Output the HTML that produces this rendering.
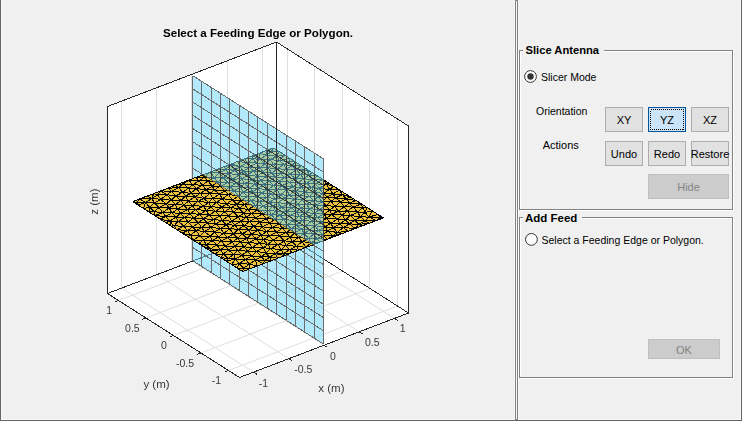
<!DOCTYPE html>
<html><head><meta charset="utf-8"><style>
html,body{margin:0;padding:0;background:#f0f0f0;width:742px;height:421px;overflow:hidden}
svg{position:absolute;left:0;top:0;font-family:"Liberation Sans",sans-serif}
svg.plot{will-change:transform}
</style></head><body>
<svg width="742" height="421" viewBox="0 0 742 421">
<rect x="520.5" y="51.5" width="213" height="159" fill="none" stroke="#fff"/><rect x="519.5" y="50.5" width="213" height="159" fill="none" stroke="#828282"/>
<rect x="523" y="46" width="81" height="8" fill="#f0f0f0"/>
<rect x="520.5" y="218.5" width="213" height="160" fill="none" stroke="#fff"/><rect x="519.5" y="217.5" width="213" height="160" fill="none" stroke="#828282"/>
<rect x="523" y="213" width="59" height="8" fill="#f0f0f0"/>
<text x="525.5" y="54.1" font-size="11.2" text-anchor="start" font-weight="bold" fill="#000" >Slice Antenna</text>
<text x="525" y="221.7" font-size="11.5" text-anchor="start" font-weight="bold" fill="#000" >Add Feed</text>
<circle cx="530.5" cy="76.5" r="5.9" fill="#fff" stroke="#333" stroke-width="1"/>
<circle cx="530.5" cy="76.5" r="3.2" fill="#333"/>
<circle cx="531.4" cy="239.4" r="5.9" fill="#fff" stroke="#333" stroke-width="1"/>
<text x="541" y="81.1" font-size="10.5" text-anchor="start" font-weight="normal" fill="#000" >Slicer Mode</text>
<text x="541.5" y="243.9" font-size="10.5" text-anchor="start" font-weight="normal" fill="#000" >Select a Feeding Edge or Polygon.</text>
<text x="536" y="114.9" font-size="10.5" text-anchor="start" font-weight="normal" fill="#000" >Orientation</text>
<text x="542.7" y="148.8" font-size="11" text-anchor="start" font-weight="normal" fill="#000" >Actions</text>
<rect x="605.5" y="107.5" width="37" height="24" fill="#e1e1e1" stroke="#adadad"/><text x="624.0" y="124" font-size="11" text-anchor="middle" font-weight="normal" fill="#000" >XY</text>
<rect x="648.5" y="107.5" width="37" height="24" fill="#cce4f7" stroke="#005499"/><rect x="650.5" y="109.5" width="33" height="20" fill="none" stroke="#000" stroke-dasharray="1,1" shape-rendering="crispEdges"/><text x="667.0" y="124" font-size="11" text-anchor="middle" font-weight="normal" fill="#000" >YZ</text>
<rect x="691.5" y="107.5" width="37" height="24" fill="#e1e1e1" stroke="#adadad"/><text x="710.0" y="124" font-size="11" text-anchor="middle" font-weight="normal" fill="#000" >XZ</text>
<rect x="605.5" y="141.5" width="37" height="24" fill="#e1e1e1" stroke="#adadad"/><text x="624.0" y="158" font-size="11" text-anchor="middle" font-weight="normal" fill="#000" >Undo</text>
<rect x="648.5" y="141.5" width="37" height="24" fill="#e1e1e1" stroke="#adadad"/><text x="667.0" y="158" font-size="11" text-anchor="middle" font-weight="normal" fill="#000" >Redo</text>
<rect x="691.5" y="141.5" width="37" height="24" fill="#e1e1e1" stroke="#adadad"/><text x="710.0" y="158" font-size="11" text-anchor="middle" font-weight="normal" fill="#000" >Restore</text>
<rect x="648.5" y="174.5" width="80" height="24" fill="#cccccc" stroke="#bfbfbf"/><text x="688.5" y="191" font-size="11" text-anchor="middle" font-weight="normal" fill="#838383" >Hide</text>
<rect x="648.5" y="339.5" width="71" height="19" fill="#cccccc" stroke="#bfbfbf"/><text x="684.0" y="354.1" font-size="11" text-anchor="middle" font-weight="normal" fill="#838383" >OK</text>
<rect x="0" y="0" width="1" height="421" fill="#646464"/>
<rect x="1" y="0" width="1" height="420" fill="#f8f8f8"/>
<rect x="0" y="420" width="742" height="1" fill="#646464"/>
<rect x="1" y="419" width="740" height="1" fill="#f8f8f8"/>
<rect x="741" y="0" width="1" height="421" fill="#646464"/>
<rect x="740" y="0" width="1" height="420" fill="#f8f8f8"/>
<rect x="514" y="0" width="1" height="420" fill="#f8f8f8"/>
<rect x="515" y="0" width="1" height="420" fill="#828282"/>
<rect x="516" y="0" width="1" height="420" fill="#828282"/>
<rect x="516" y="1" width="1" height="418" fill="#f8f8f8"/>
<rect x="517" y="0" width="1" height="420" fill="#828282"/>
<rect x="518" y="0" width="1" height="420" fill="#f8f8f8"/>
</svg>
<svg class="plot" width="742" height="421" viewBox="0 0 742 421">
<polygon points="107.50,293.50 276.50,229.00 276.50,42.00 107.50,106.50" fill="#fff"/>
<polygon points="276.50,229.00 408.50,313.00 408.50,126.00 276.50,42.00" fill="#fff"/>
<polygon points="107.50,293.50 239.50,377.50 408.50,313.00 276.50,229.00" fill="#fff"/>
<g stroke="#dfdfdf" stroke-width="1"><line x1="121.50" y1="288.12" x2="121.50" y2="101.12" /><line x1="397.50" y1="306.00" x2="397.50" y2="119.00" /><line x1="253.58" y1="372.12" x2="121.58" y2="288.12" /><line x1="228.50" y1="370.50" x2="397.50" y2="306.00" /><line x1="156.50" y1="274.69" x2="156.50" y2="87.69" /><line x1="369.50" y1="288.50" x2="369.50" y2="101.50" /><line x1="288.79" y1="358.69" x2="156.79" y2="274.69" /><line x1="201.00" y1="353.00" x2="370.00" y2="288.50" /><line x1="191.50" y1="261.25" x2="191.50" y2="74.25" /><line x1="342.50" y1="271.00" x2="342.50" y2="84.00" /><line x1="324.00" y1="345.25" x2="192.00" y2="261.25" /><line x1="173.50" y1="335.50" x2="342.50" y2="271.00" /><line x1="227.50" y1="247.81" x2="227.50" y2="60.81" /><line x1="314.50" y1="253.50" x2="314.50" y2="66.50" /><line x1="359.21" y1="331.81" x2="227.21" y2="247.81" /><line x1="146.00" y1="318.00" x2="315.00" y2="253.50" /><line x1="262.50" y1="234.38" x2="262.50" y2="47.38" /><line x1="287.50" y1="236.00" x2="287.50" y2="49.00" /><line x1="394.42" y1="318.38" x2="262.42" y2="234.38" /><line x1="118.50" y1="300.50" x2="287.50" y2="236.00" /></g>
<g stroke="#262626" stroke-width="1" shape-rendering="crispEdges"><line x1="107.50" y1="293.50" x2="276.50" y2="229.00" /><line x1="276.50" y1="229.00" x2="408.50" y2="313.00" /><line x1="276.50" y1="229.00" x2="276.50" y2="42.00" /></g>
<defs><g id="plate"><polygon points="242.58,271.62 383.42,217.88 273.42,147.88 132.58,201.62" fill="#eec13f"/><path d="M238.9 208.4L248.1 209.3M345.2 219.9L350.3 215.5M296.2 224.9L293.3 220.6M243.7 268.0L239.3 263.7M198.6 243.6L193.1 240.1M249.4 221.6L255.9 217.9M270.3 159.6L276.8 156.4M287.2 225.0L284.0 219.2M224.6 211.8L233.3 211.9M264.1 184.2L261.2 180.4M169.1 207.8L165.9 203.9M304.4 233.5L309.3 230.2M143.6 208.6L149.6 207.2M180.7 213.4L177.8 209.1M284.0 219.2L290.3 215.8M372.4 210.9L366.9 207.4M174.0 225.8L183.9 226.3M248.6 242.8L247.1 238.3M171.3 200.2L167.1 194.7M301.7 187.5L298.2 183.1M366.9 207.4L361.4 203.9M243.9 225.9L240.6 221.2M347.6 210.9L357.8 212.2M256.6 251.4L265.9 253.2M203.7 240.0L210.2 236.1M298.9 250.1L296.5 246.3M198.4 223.0L203.2 218.8M187.8 209.7L195.8 209.7M276.6 232.1L272.3 227.4M358.8 224.3L365.2 220.8M246.9 162.9L253.1 158.8M252.1 256.1L256.6 251.4M185.6 196.1L195.3 196.7M301.7 187.5L306.2 183.3M294.5 232.9L291.6 228.7M265.1 163.6L270.3 159.6M231.6 264.6L235.2 259.1M243.9 225.9L253.9 226.3M323.4 193.5L329.6 189.5M149.1 212.1L154.1 211.6M269.9 202.1L266.8 197.5M169.7 221.3L165.8 216.4M222.3 198.6L232.2 200.1M317.1 238.7L327.1 239.4M196.0 177.4L203.0 174.8M236.8 183.3L244.3 183.6M188.2 221.8L184.5 217.5M203.7 198.3L210.1 193.4M244.3 183.6L242.2 178.8M204.6 231.7L201.6 227.5M279.2 215.2L290.3 215.8M242.1 233.9L238.5 229.4M224.1 166.7L230.9 165.2M338.1 211.4L335.1 206.3M380.2 217.6L383.4 217.9M252.4 179.8L257.3 176.4M277.6 202.8L288.7 203.5M250.0 187.9L255.2 184.1M352.9 207.1L349.6 203.2M344.0 206.7L352.9 207.1M269.8 257.1L277.8 258.2M188.3 201.1L198.1 201.4M183.9 205.2L192.2 205.7M296.5 246.3L292.3 241.6M247.1 238.3L251.4 234.3M213.6 219.4L220.0 215.8M283.9 164.5L289.0 161.6M342.3 215.0L347.6 210.9M250.0 187.9L244.3 183.6M329.6 189.5L333.9 186.4M279.2 223.9L275.0 219.2M255.9 217.9L266.3 218.7M271.8 214.8L279.2 215.2M203.7 198.3L212.8 198.5M240.5 241.9L247.1 238.3M289.6 249.7L296.5 246.3M187.6 236.6L182.1 233.1M226.5 203.9L237.0 204.2M275.0 219.2L284.0 219.2M214.3 190.0L225.0 190.7M295.6 190.6L293.1 186.8M212.3 240.7L210.2 236.1M193.1 240.1L190.5 235.4M212.3 186.1L208.0 180.9M306.0 247.4L311.2 242.7M281.4 186.0L279.4 181.1M277.2 190.0L273.7 185.4M149.6 207.2L159.1 207.5M279.4 160.5L289.9 158.4M267.9 189.6L264.1 184.2M203.3 206.2L198.1 201.4M223.3 254.0L233.7 254.4M244.1 246.9L240.5 241.9M265.9 253.2L263.4 247.7M321.9 222.0L326.4 218.3M232.7 179.2L239.3 174.9M355.9 200.4L350.4 196.9M241.9 255.2L252.1 256.1M139.6 198.9L152.0 198.3M302.2 199.8L313.5 200.7M256.2 163.0L265.1 163.6M210.9 227.6L220.7 228.4M256.4 239.0L263.6 239.7M227.6 237.5L233.2 234.0M208.9 215.1L220.0 215.8M244.3 204.3L241.1 200.8M264.5 260.5L269.8 257.1M326.0 205.7L331.1 201.3M362.3 225.9L369.3 223.2M335.6 197.8L342.4 194.6M190.8 193.3L200.3 193.3M195.8 209.7L203.3 206.2M174.8 185.5L181.9 182.8M319.0 188.3L329.6 189.5M154.6 215.6L149.1 212.1M281.0 173.6L286.0 169.4M262.3 213.8L271.8 214.8M267.7 244.5L273.1 240.4M327.5 231.0L325.2 226.9M228.0 258.5L223.3 254.0M165.9 203.9L160.7 199.4M305.5 225.9L302.6 220.5M292.0 165.8L295.4 161.9M220.7 228.4L215.6 224.0M240.5 187.1L244.3 183.6M311.2 242.7L317.1 238.7M269.6 223.1L275.0 219.2M251.3 200.5L257.0 197.0M160.1 219.1L165.8 216.4M256.2 163.0L253.1 158.8M210.9 227.6L207.4 222.8M263.7 263.6L264.5 260.5M256.4 239.0L251.4 234.3M292.0 165.8L289.0 161.6M181.1 200.5L188.3 201.1M165.9 203.9L175.2 204.5M152.0 198.3L157.8 194.8M257.3 176.4L266.0 176.5M349.3 223.9L358.8 224.3M247.6 251.2L252.1 247.4M220.1 186.1L217.5 182.0M298.2 183.1L303.3 178.6M229.8 228.7L234.7 225.1M290.3 237.2L298.5 237.6M326.6 184.3L328.4 182.9M279.4 236.0L290.3 237.2M246.4 217.3L251.5 213.7M298.5 237.6L294.5 232.9M204.4 177.3L214.3 177.6M261.2 180.4L257.3 176.4M309.6 196.4L305.0 192.0M239.3 174.9L247.9 174.9M183.9 226.3L192.6 227.1M154.2 203.0L152.0 198.3M154.1 211.6L159.1 207.5M174.8 185.5L178.7 187.7M318.3 230.3L325.2 226.9M226.1 261.1L228.0 258.5M165.8 216.4L176.0 217.1M316.3 205.1L326.0 205.7M290.3 215.8L296.3 212.0M303.3 178.6L312.1 179.9M365.1 212.3L362.4 207.5M233.7 254.4L237.8 250.5M231.7 221.2L228.6 215.9M259.9 159.3L259.3 153.2M325.2 226.9L330.8 223.4M293.1 186.8L301.7 187.5M279.4 160.5L276.8 156.4M200.3 193.3L196.3 188.5M198.8 180.8L196.0 177.4M269.8 257.1L275.3 253.6M346.1 198.9L350.4 196.9M226.1 261.1L235.2 259.1M175.6 196.0L182.7 192.3M143.6 208.6L138.1 205.1M300.6 174.4L306.2 170.3M222.1 220.5L228.6 215.9M242.2 178.8L239.3 174.9M183.9 226.3L178.3 221.3M219.3 173.0L229.0 173.7M315.2 183.9L322.9 179.4M249.6 268.9L249.7 264.1M269.9 202.1L275.4 198.5M204.1 247.1L210.4 248.8M177.8 209.1L175.2 204.5M206.4 210.3L203.3 206.2M235.2 259.1L245.3 259.4M314.5 213.3L324.4 214.1M277.8 258.2L275.3 253.6M244.3 183.6L255.2 184.1M243.3 171.1L253.5 171.0M253.5 171.0L263.0 171.9M214.7 232.0L223.7 233.5M192.6 227.1L198.4 223.0M346.1 198.9L342.4 194.6M176.0 217.1L180.7 213.4M329.6 189.5L339.4 189.9M233.2 234.0L238.5 229.4M258.1 230.4L266.6 231.5M286.0 169.4L292.0 165.8M259.9 159.3L270.3 159.6M358.8 224.3L369.3 223.2M306.2 170.3L311.9 172.4M195.3 196.7L200.3 193.3M221.7 207.2L230.6 207.7M277.8 258.2L284.8 255.5M241.1 200.8L238.7 195.9M269.2 235.8L276.6 232.1M219.3 173.0L217.1 169.4M269.9 202.1L277.6 202.8M250.0 187.9L257.8 188.5M311.7 221.2L308.5 217.0M263.0 206.2L272.9 206.1M275.8 211.2L286.6 211.2M253.5 171.0L249.6 167.5M217.1 169.4L225.7 169.3M315.1 225.8L325.2 226.9M190.5 235.4L199.9 236.0M261.4 256.7L256.6 251.4M286.7 189.8L295.6 190.6M212.3 240.7L218.2 237.0M255.9 217.9L251.5 213.7M289.4 182.2L298.2 183.1M153.7 193.6L160.8 190.9M240.5 241.9L248.6 242.8M249.7 264.1L255.6 259.9M195.3 196.7L203.7 198.3M193.5 218.2L199.8 214.2M221.7 207.2L216.4 202.5M267.9 189.6L273.7 185.4M188.2 221.8L193.5 218.2M306.2 183.3L315.2 183.9M238.4 216.7L233.3 211.9M331.1 201.3L340.6 201.9M263.0 171.9L268.0 167.8M225.0 190.7L220.1 186.1M178.7 187.7L188.5 188.0M349.6 203.2L355.9 200.4M212.8 198.5L222.3 198.6M338.1 211.4L344.0 206.7M209.6 250.6L204.1 247.1M263.0 206.2L259.5 201.5M162.7 212.7L159.1 207.5M258.1 230.4L262.2 226.9M215.4 211.3L221.7 207.2M312.1 179.9L317.4 175.9M190.5 235.4L187.6 230.6M241.9 255.2L237.8 250.5M225.0 190.7L234.3 190.7M149.1 212.1L149.6 207.2M171.5 191.3L167.8 188.2M306.2 204.3L316.3 205.1M264.5 260.5L270.8 260.9M377.9 214.4L372.4 210.9M220.5 249.8L228.4 250.0M305.8 212.7L309.7 208.7M210.4 248.8L216.8 244.8M188.3 201.1L185.6 196.1M331.6 214.3L342.3 215.0M309.7 174.8L306.2 170.3M223.7 233.5L233.2 234.0M154.6 215.6L162.7 212.7M269.5 181.3L275.3 177.1M326.6 184.3L333.9 186.4M281.4 186.0L289.4 182.2M176.6 229.6L171.1 226.1M266.4 155.1L271.3 151.7M171.1 226.1L165.6 222.6M252.9 191.9L250.0 187.9M253.9 226.3L259.9 222.0M230.1 186.5L228.2 182.6M228.6 215.9L233.3 211.9M289.8 174.2L296.6 169.7M330.8 223.4L326.4 218.3M306.2 204.3L302.2 199.8M259.5 201.5L269.9 202.1M149.6 207.2L145.6 202.6M343.4 227.5L340.0 223.8M308.7 238.5L313.4 234.1M223.3 254.0L220.5 249.8M257.8 188.5L267.9 189.6M232.2 200.1L238.7 195.9M313.5 200.7L309.6 196.4M232.7 179.2L242.2 178.8M239.9 166.7L238.2 161.3M344.9 193.4L339.4 189.9M210.0 172.1L217.1 169.4M216.8 244.8L225.2 246.0M220.0 215.8L215.4 211.3M299.2 216.3L305.8 212.7M288.7 203.5L297.8 204.1M206.2 244.7L216.8 244.8M203.2 218.8L199.8 214.2M180.7 213.4L190.1 213.7M309.6 196.4L318.0 197.2M242.6 271.6L243.7 268.0M208.9 215.1L206.4 210.3M299.6 195.5L305.0 192.0M305.5 225.9L311.7 221.2M266.6 231.5L262.2 226.9M333.3 227.6L340.0 223.8M251.4 234.3L249.0 229.9M190.8 193.3L188.5 188.0M346.1 198.9L355.9 200.4M318.0 197.2L323.4 193.5M331.6 214.3L338.1 211.4M303.3 178.6L309.7 174.8M237.0 204.2L244.3 204.3M263.4 247.7L267.7 244.5M276.6 232.1L286.3 232.5M259.5 201.5L257.0 197.0M292.3 241.6L302.1 241.6M198.8 180.8L208.0 180.9M255.2 184.1L252.4 179.8M216.8 244.8L212.3 240.7M266.3 218.7L271.8 214.8M206.2 244.7L203.7 240.0M268.7 210.4L272.9 206.1M296.6 169.7L300.9 165.4M272.9 206.1L277.6 202.8M287.2 225.0L293.3 220.6M314.0 192.3L311.8 187.7M265.1 163.6L273.5 164.6M313.4 234.1L318.3 230.3M238.5 229.4L234.7 225.1M178.3 221.3L188.2 221.8M297.8 204.1L302.2 199.8M266.4 150.6L271.3 151.7M281.2 249.5L278.0 244.6M261.1 235.3L258.1 230.4M361.4 203.9L355.9 200.4M234.7 225.1L243.9 225.9M270.3 159.6L279.4 160.5M224.6 211.8L221.7 207.2M248.6 242.8L256.4 239.0M368.8 217.1L380.2 217.6M305.0 192.0L311.8 187.7M314.0 192.3L319.0 188.3M165.6 222.6L160.1 219.1M357.8 212.2L362.4 207.5M251.3 200.5L247.3 196.4M284.8 255.5L291.9 252.8M160.1 219.1L154.6 215.6M298.9 250.1L306.0 247.4M284.0 219.2L293.3 220.6M182.7 192.3L188.5 188.0M243.7 268.0L249.6 268.9M188.9 180.1L196.0 177.4M314.5 213.3L309.7 208.7M206.1 189.8L212.3 186.1M255.6 259.9L263.7 263.6M248.1 209.3L255.5 205.4M178.3 221.3L176.0 217.1M271.3 151.7L273.4 147.9M329.6 210.1L326.0 205.7M256.6 251.4L252.1 247.4M165.6 222.6L169.7 221.3M290.3 215.8L299.2 216.3M333.9 186.4L328.4 182.9M328.4 182.9L322.9 179.4M237.8 250.5L247.6 251.2M368.8 217.1L365.1 212.3M337.3 232.4L348.2 231.3M219.4 194.0L214.3 190.0M323.4 193.5L333.1 194.0M261.4 256.7L265.9 253.2M222.3 198.6L219.4 194.0M175.2 204.5L181.1 200.5M268.7 210.4L263.0 206.2M354.9 220.2L360.3 216.8M238.9 208.4L237.0 204.2M182.7 192.3L190.8 193.3M231.7 221.2L240.6 221.2M350.3 215.5L357.8 212.2M234.3 190.7L243.5 192.4M368.8 217.1L377.9 214.4M308.5 217.0L305.8 212.7M219.4 194.0L228.5 194.5M286.7 189.8L281.4 186.0M257.2 210.0L268.7 210.4M358.8 224.3L362.3 225.9M289.4 182.2L284.5 177.6M237.8 250.5L234.8 246.5M291.8 207.9L301.2 208.2M249.0 229.9L243.9 225.9M260.1 167.9L256.2 163.0M340.6 201.9L335.6 197.8M265.1 163.6L259.9 159.3M327.1 239.4L333.1 235.7M234.8 246.5L244.1 246.9M229.0 173.7L234.7 170.4M192.6 227.1L201.6 227.5M275.3 177.1L271.8 173.0M289.3 195.2L299.6 195.5M281.0 173.6L289.8 174.2M323.4 193.5L319.0 188.3M199.8 214.2L208.9 215.1M213.6 219.4L222.1 220.5M302.6 220.5L308.5 217.0M237.9 238.0L247.1 238.3M295.6 190.6L301.7 187.5M215.1 254.1L223.3 254.0M256.7 266.2L263.7 263.6M258.1 230.4L253.9 226.3M271.8 173.0L281.0 173.6M203.7 198.3L200.3 193.3M146.7 196.2L153.7 193.6M167.1 194.7L171.5 191.3M234.3 190.7L230.1 186.5M275.0 219.2L271.8 214.8M331.1 201.3L335.6 197.8M214.3 190.0L212.3 186.1M183.3 183.8L192.6 184.8M275.4 198.5L270.7 194.0M202.3 185.2L212.3 186.1M196.0 177.4L204.4 177.3M236.8 183.3L232.7 179.2M244.3 204.3L255.5 205.4M226.5 203.9L232.2 200.1M315.1 225.8L311.7 221.2M342.3 215.0L338.1 211.4M221.4 241.1L218.2 237.0M230.1 186.5L236.8 183.3M275.4 198.5L284.6 198.2M365.2 220.8L360.3 216.8M286.6 211.2L291.8 207.9M195.3 196.7L190.8 193.3M225.7 169.3L230.9 165.2M193.5 218.2L203.2 218.8M343.4 227.5L355.2 228.6M317.4 175.9L311.9 172.4M154.2 203.0L160.7 199.4M257.8 188.5L264.1 184.2M259.4 243.2L256.4 239.0M265.9 253.2L275.3 253.6M239.9 166.7L246.9 162.9M228.4 250.0L234.8 246.5M243.9 213.1L238.9 208.4M245.3 259.4L252.1 256.1M237.9 238.0L242.1 233.9M326.6 184.3L322.9 179.4M271.8 214.8L268.7 210.4M365.2 220.8L368.8 217.1M232.2 200.1L241.1 200.8M259.9 222.0L266.3 218.7M296.6 169.7L306.4 168.9M291.6 228.7L301.2 229.2M348.2 231.3L343.4 227.5M181.1 200.5L175.6 196.0M152.0 198.3L160.7 199.4M313.0 244.8L320.0 242.1M298.5 237.6L304.4 233.5M333.1 235.7L341.2 234.0M321.9 222.0L330.8 223.4M360.3 216.8L357.8 212.2M278.9 151.4L273.4 147.9M266.0 176.5L271.8 173.0M198.6 243.6L203.7 240.0M171.3 200.2L175.6 196.0M327.0 197.1L335.6 197.8M312.1 179.9L309.7 174.8M214.7 232.0L220.7 228.4M226.5 224.8L231.7 221.2M217.5 182.0L214.3 177.6M286.3 232.5L282.2 228.3M160.7 199.4L167.1 194.7M272.9 206.1L269.9 202.1M239.3 174.9L234.7 170.4M286.6 211.2L281.9 207.4M283.4 253.6L289.6 249.7M187.6 230.6L183.9 226.3M271.3 151.7L278.9 151.4M165.8 216.4L162.7 212.7M311.2 242.7L320.0 242.1M217.5 182.0L228.2 182.6M187.8 209.7L183.9 205.2M160.1 219.1L169.7 221.3M293.1 186.8L289.4 182.2M174.0 225.8L178.3 221.3M242.2 178.8L247.9 174.9M230.9 165.2L239.9 166.7M204.6 231.7L214.7 232.0M255.6 259.9L264.5 260.5M187.6 230.6L192.6 227.1M275.3 177.1L284.5 177.6M322.2 201.6L331.1 201.3M270.7 194.0L277.2 190.0M169.1 207.8L175.2 204.5M253.1 158.8L259.9 159.3M261.2 180.4L266.0 176.5M355.2 228.6L358.8 224.3M284.0 219.2L279.2 215.2M171.7 212.8L177.8 209.1M222.1 220.5L231.7 221.2M237.0 204.2L232.2 200.1M229.8 228.7L238.5 229.4M311.8 187.7L315.2 183.9M306.2 170.3L306.4 168.9M240.6 221.2L249.4 221.6M198.1 201.4L208.6 202.5M248.1 209.3L257.2 210.0M188.5 188.0L192.6 184.8M216.4 202.5L226.5 203.9M270.7 248.6L278.0 244.6M277.6 202.8L275.4 198.5M238.9 208.4L244.3 204.3M296.2 224.9L305.5 225.9M235.2 259.1L233.7 254.4M187.6 236.6L190.5 235.4M255.6 259.9L252.1 256.1M309.7 208.7L306.2 204.3M308.5 217.0L317.2 217.3M252.1 247.4L248.6 242.8M261.9 192.9L267.9 189.6M169.1 207.8L177.8 209.1M350.4 196.9L344.9 193.4M341.2 234.0L348.2 231.3M201.6 227.5L210.9 227.6M222.1 220.5L220.0 215.8M277.2 190.0L286.7 189.8M270.8 260.9L269.8 257.1M249.4 221.6L246.4 217.3M266.0 176.5L275.3 177.1M270.3 159.6L266.4 155.1M319.1 209.6L326.0 205.7M340.6 201.9L349.6 203.2M207.4 222.8L213.6 219.4M252.3 155.9L259.3 153.2M249.6 167.5L256.2 163.0M347.6 210.9L352.9 207.1M232.5 241.9L237.9 238.0M149.1 212.1L143.6 208.6M196.3 188.5L206.1 189.8M251.5 213.7L248.1 209.3M211.0 206.9L216.4 202.5M171.5 191.3L178.7 187.7M291.8 207.9L288.7 203.5M275.8 211.2L272.9 206.1M337.3 232.4L341.2 234.0M275.0 219.2L279.2 215.2M230.6 207.7L237.0 204.2M203.7 240.0L199.9 236.0M296.5 246.3L302.1 241.6M301.2 229.2L309.3 230.2M302.1 241.6L308.7 238.5M201.6 227.5L198.4 223.0M257.2 210.0L263.0 206.2M271.8 173.0L268.0 167.8M317.1 238.7L322.9 235.1M305.0 192.0L301.7 187.5M344.0 206.7L340.6 201.9M340.0 223.8L349.3 223.9M232.5 241.9L240.5 241.9M317.2 217.3L324.4 214.1M196.3 188.5L192.6 184.8M342.3 215.0L350.3 215.5M210.9 227.6L215.6 224.0M159.1 207.5L165.9 203.9M221.4 241.1L232.5 241.9M203.2 218.8L213.6 219.4M202.3 185.2L198.8 180.8M233.2 234.0L242.1 233.9M171.5 191.3L182.7 192.3M289.6 249.7L298.9 250.1M272.3 227.4L282.2 228.3M309.7 174.8L311.9 172.4M252.4 179.8L247.9 174.9M243.5 192.4L250.0 187.9M171.1 226.1L169.7 221.3M234.7 170.4L243.3 171.1M295.6 190.6L305.0 192.0M293.3 220.6L302.6 220.5M301.2 208.2L306.2 204.3M247.3 196.4L252.9 191.9M339.4 189.9L333.9 186.4M327.5 231.0L333.3 227.6M228.0 258.5L233.7 254.4M149.6 207.2L154.2 203.0M289.6 249.7L285.9 245.5M268.0 167.8L277.3 168.7M262.2 226.9L259.9 222.0M220.0 215.8L228.6 215.9M302.2 199.8L309.6 196.4M306.0 247.4L302.1 241.6M283.9 164.5L292.0 165.8M138.1 205.1L132.6 201.6M203.2 218.8L208.9 215.1M233.3 211.9L243.9 213.1M255.5 205.4L251.3 200.5M200.3 193.3L210.1 193.4M210.1 193.4L219.4 194.0M263.6 239.7L269.2 235.8M210.4 248.8L206.2 244.7M327.1 239.4L322.9 235.1M278.0 244.6L284.4 240.9M266.6 231.5L276.6 232.1M232.7 179.2L229.0 173.7M334.1 236.7L333.1 235.7M192.6 184.8L198.8 180.8M190.8 193.3L196.3 188.5M251.3 200.5L259.5 201.5M234.7 170.4L230.9 165.2M286.3 232.5L294.5 232.9M284.6 198.2L280.5 194.9M288.7 203.5L284.6 198.2M212.3 186.1L217.5 182.0M243.9 213.1L248.1 209.3M262.3 213.8L268.7 210.4M327.5 231.0L337.3 232.4M228.5 194.5L234.3 190.7M326.0 205.7L322.2 201.6M306.4 168.9L300.9 165.4M195.8 209.7L192.2 205.7M309.7 208.7L319.1 209.6M300.9 165.4L295.4 161.9M228.6 215.9L224.6 211.8M206.2 244.7L212.3 240.7M233.3 211.9L230.6 207.7M290.3 237.2L286.3 232.5M275.3 253.6L284.8 255.5M160.8 190.9L171.5 191.3M185.6 196.1L190.8 193.3M335.6 197.8L346.1 198.9M238.5 229.4L249.0 229.9M311.2 242.7L308.7 238.5M281.2 249.5L285.9 245.5M268.7 210.4L275.8 211.2M261.1 235.3L266.6 231.5M266.8 197.5L261.9 192.9M231.7 221.2L238.4 216.7M224.6 211.8L230.6 207.7M324.4 214.1L319.1 209.6M208.0 180.9L214.3 177.6M257.8 188.5L255.2 184.1M241.1 200.8L247.3 196.4M214.3 177.6L223.1 177.5M198.8 180.8L204.4 177.3M316.3 205.1L313.5 200.7M261.2 180.4L269.5 181.3M171.7 212.8L169.1 207.8M204.1 247.1L206.2 244.7M257.0 197.0L261.9 192.9M325.2 226.9L333.3 227.6M243.7 268.0L249.7 264.1M252.1 256.1L261.4 256.7M243.3 171.1L249.6 167.5M294.8 199.3L299.6 195.5M231.6 264.6L239.3 263.7M216.4 202.5L212.8 198.5M337.5 219.1L342.3 215.0M247.9 174.9L253.5 171.0M226.5 224.8L234.7 225.1M318.0 197.2L327.0 197.1M362.4 207.5L361.4 203.9M253.9 226.3L249.4 221.6M316.3 205.1L322.2 201.6M262.3 213.8L257.2 210.0M355.2 228.6L362.3 225.9M192.2 205.7L198.1 201.4M187.8 209.7L192.2 205.7M249.4 221.6L259.9 222.0M206.1 189.8L214.3 190.0M308.7 238.5L304.4 233.5M368.8 217.1L372.4 210.9M304.4 233.5L313.4 234.1M212.3 186.1L220.1 186.1M252.1 256.1L247.6 251.2M276.8 156.4L284.4 154.9M275.8 211.2L281.9 207.4M287.2 225.0L296.2 224.9M214.7 232.0L210.9 227.6M223.1 177.5L229.0 173.7M264.1 184.2L273.7 185.4M279.2 215.2L286.6 211.2M154.1 211.6L162.7 212.7M337.5 219.1L345.2 219.9M239.3 263.7L249.7 264.1M270.7 194.0L280.5 194.9M175.2 204.5L183.9 205.2M345.2 219.9L342.3 215.0M238.2 161.3L245.2 158.6M289.9 158.4L284.4 154.9M277.2 190.0L281.4 186.0M215.4 211.3L224.6 211.8M314.5 213.3L319.1 209.6M240.6 221.2L238.4 216.7M249.0 229.9L258.1 230.4M248.1 209.3L244.3 204.3M337.3 232.4L343.4 227.5M244.1 246.9L248.6 242.8M269.2 235.8L279.4 236.0M309.7 174.8L317.4 175.9M270.7 248.6L281.2 249.5M238.7 195.9L234.3 190.7M257.2 210.0L255.5 205.4M273.5 164.6L283.9 164.5M208.6 202.5L212.8 198.5M279.2 223.9L287.2 225.0M352.9 207.1L361.4 203.9M337.5 219.1L331.6 214.3M239.3 263.7L235.2 259.1M225.0 190.7L230.1 186.5M213.6 219.4L208.9 215.1M270.7 194.0L267.9 189.6M252.9 191.9L257.8 188.5M175.2 204.5L171.3 200.2M198.4 223.0L193.5 218.2M212.3 240.7L221.4 241.1M238.7 195.9L243.5 192.4M252.4 179.8L261.2 180.4M280.5 194.9L289.3 195.2M209.6 250.6L210.4 248.8M215.4 211.3L211.0 206.9M281.9 207.4L288.7 203.5M306.2 183.3L303.3 178.6M269.2 235.8L266.6 231.5M237.1 268.1L243.7 268.0M218.2 237.0L227.6 237.5M241.9 255.2L247.6 251.2M270.7 248.6L267.7 244.5M242.1 233.9L251.4 234.3M338.1 211.4L347.6 210.9M335.1 206.3L340.6 201.9M286.0 169.4L296.6 169.7M208.9 215.1L215.4 211.3M228.2 182.6L236.8 183.3M153.7 193.6L157.8 194.8M249.7 264.1L245.3 259.4M193.5 218.2L190.1 213.7M257.3 176.4L253.5 171.0M255.2 184.1L264.1 184.2M139.6 198.9L146.7 196.2M317.2 217.3L326.4 218.3M296.3 212.0L301.2 208.2M284.6 198.2L294.8 199.3M283.9 164.5L279.4 160.5M298.2 183.1L306.2 183.3M263.4 247.7L270.7 248.6M275.4 198.5L280.5 194.9M210.1 193.4L206.1 189.8M286.0 169.4L283.9 164.5M165.9 203.9L171.3 200.2M257.3 176.4L263.0 171.9M266.4 155.1L266.4 150.6M195.8 209.7L206.4 210.3M220.7 228.4L226.5 224.8M272.3 227.4L269.6 223.1M295.6 178.4L300.6 174.4M268.0 167.8L273.5 164.6M237.1 268.1L239.3 263.7M285.9 245.5L296.5 246.3M273.1 240.4L284.4 240.9M138.1 205.1L137.2 202.4M275.3 253.6L281.2 249.5M200.3 193.3L206.1 189.8M281.9 207.4L277.6 202.8M279.4 236.0L286.3 232.5M210.0 172.1L219.3 173.0M257.0 197.0L266.8 197.5M301.2 208.2L309.7 208.7M291.6 228.7L296.2 224.9M198.6 243.6L206.2 244.7M196.2 230.5L204.6 231.7M327.0 197.1L323.4 193.5M322.9 179.4L317.4 175.9M335.6 197.8L333.1 194.0M210.2 236.1L218.2 237.0M305.8 212.7L314.5 213.3M362.4 207.5L366.9 207.4M160.7 199.4L171.3 200.2M289.8 174.2L286.0 169.4M190.1 213.7L195.8 209.7M215.6 224.0L226.5 224.8M270.8 260.9L277.8 258.2M177.8 209.1L183.9 205.2M206.4 210.3L211.0 206.9M160.8 190.9L167.8 188.2M263.6 239.7L273.1 240.4M220.6 257.6L215.1 254.1M246.4 217.3L255.9 217.9M232.2 200.1L228.5 194.5M266.4 155.1L276.8 156.4M369.3 223.2L376.4 220.6M290.3 215.8L286.6 211.2M291.9 252.8L298.9 250.1M277.3 168.7L283.9 164.5M174.8 185.5L183.3 183.8M139.6 198.9L145.6 202.6M266.3 218.7L275.0 219.2M181.9 182.8L188.9 180.1M257.0 197.0L252.9 191.9M322.9 235.1L318.3 230.3M230.9 165.2L231.2 164.0M313.4 234.1L322.9 235.1M294.5 232.9L301.2 229.2M226.5 224.8L222.1 220.5M322.2 201.6L318.0 197.2M247.6 251.2L244.1 246.9M266.4 150.6L273.4 147.9M269.5 181.3L266.0 176.5M303.3 178.6L300.6 174.4M169.7 221.3L176.0 217.1M233.7 254.4L241.9 255.2M234.7 225.1L231.7 221.2M225.2 246.0L234.8 246.5M246.9 162.9L256.2 163.0M244.3 183.6L252.4 179.8M248.6 242.8L259.4 243.2M305.0 192.0L314.0 192.3M324.4 214.1L329.6 210.1M178.7 187.7L183.3 183.8M309.7 208.7L316.3 205.1M357.8 212.2L365.1 212.3M300.6 174.4L309.7 174.8M240.6 221.2L246.4 217.3M238.4 216.7L243.9 213.1M199.9 236.0L196.2 230.5M222.3 198.6L228.5 194.5M251.5 213.7L257.2 210.0M266.0 176.5L263.0 171.9M325.2 226.9L321.9 222.0M217.1 169.4L224.1 166.7M204.1 247.1L198.6 243.6M269.8 257.1L265.9 253.2M183.9 205.2L181.1 200.5M207.4 222.8L215.6 224.0M334.1 236.7L341.2 234.0M311.9 172.4L306.4 168.9M297.8 204.1L306.2 204.3M190.5 235.4L196.2 230.5M284.8 255.5L283.4 253.6M224.1 166.7L231.2 164.0M256.2 163.0L259.9 159.3M354.9 220.2L365.2 220.8M198.4 223.0L207.4 222.8M279.4 181.1L284.5 177.6M280.5 194.9L286.7 189.8M206.1 189.8L202.3 185.2M237.8 250.5L244.1 246.9M203.3 206.2L208.6 202.5M208.0 180.9L204.4 177.3M260.1 167.9L265.1 163.6M344.0 206.7L349.6 203.2M259.4 243.2L263.6 239.7M230.6 207.7L238.9 208.4M301.2 229.2L296.2 224.9M304.4 233.5L301.2 229.2M242.1 233.9L249.0 229.9M174.0 225.8L169.7 221.3M271.8 214.8L275.8 211.2M282.2 228.3L291.6 228.7M220.5 249.8L216.8 244.8M234.8 246.5L232.5 241.9M207.4 222.8L203.2 218.8M223.1 177.5L232.7 179.2M192.6 227.1L188.2 221.8M340.0 223.8L337.5 219.1M176.0 217.1L171.7 212.8M199.8 214.2L195.8 209.7M232.5 241.9L227.6 237.5M154.6 215.6L165.8 216.4M302.6 220.5L311.7 221.2M309.3 230.2L315.1 225.8M354.9 220.2L350.3 215.5M238.2 161.3L246.9 162.9M233.2 234.0L229.8 228.7M169.7 221.3L178.3 221.3M240.5 241.9L237.9 238.0M319.1 209.6L329.6 210.1M291.8 207.9L297.8 204.1M273.7 185.4L279.4 181.1M210.2 236.1L214.7 232.0M176.6 229.6L183.9 226.3M157.8 194.8L167.1 194.7M315.1 225.8L321.9 222.0M313.5 200.7L318.0 197.2M247.1 238.3L256.4 239.0M289.8 174.2L300.6 174.4M256.4 239.0L261.1 235.3M365.2 220.8L376.4 220.6M132.6 201.6L137.2 202.4M279.2 215.2L275.8 211.2M289.0 161.6L295.4 161.9M251.4 234.3L258.1 230.4M269.6 223.1L279.2 223.9M188.3 201.1L195.3 196.7M319.0 188.3L326.6 184.3M302.6 220.5L299.2 216.3M159.1 207.5L154.2 203.0M266.8 197.5L275.4 198.5M227.6 237.5L223.7 233.5M306.0 247.4L313.0 244.8M247.3 196.4L257.0 197.0M305.5 225.9L315.1 225.8M319.1 209.6L316.3 205.1M244.3 204.3L251.3 200.5M220.6 257.6L228.0 258.5M259.3 153.2L266.4 155.1M252.3 155.9L259.9 159.3M268.0 167.8L265.1 163.6M165.8 216.4L171.7 212.8M281.0 173.6L277.3 168.7M223.7 233.5L220.7 228.4M218.2 237.0L214.7 232.0M267.7 244.5L263.6 239.7M245.3 259.4L255.6 259.9M269.5 181.3L279.4 181.1M184.5 217.5L190.1 213.7M273.1 240.4L269.2 235.8M225.2 246.0L232.5 241.9M348.2 231.3L355.2 228.6M211.0 206.9L208.6 202.5M330.8 223.4L337.5 219.1M295.4 161.9L289.9 158.4M281.4 186.0L293.1 186.8M335.1 206.3L344.0 206.7M333.1 194.0L342.4 194.6M278.0 244.6L285.9 245.5M349.3 223.9L354.9 220.2M251.4 234.3L261.1 235.3M238.5 229.4L243.9 225.9M167.8 188.2L174.8 185.5M309.3 230.2L305.5 225.9M237.0 204.2L241.1 200.8M276.6 232.1L282.2 228.3M273.7 185.4L269.5 181.3M308.7 238.5L317.1 238.7M176.6 229.6L174.0 225.8M318.3 230.3L327.5 231.0M295.6 178.4L289.8 174.2M296.2 224.9L302.6 220.5M220.1 186.1L228.2 182.6M182.1 233.1L187.6 230.6M239.3 174.9L243.3 171.1M278.0 244.6L273.1 240.4M183.9 226.3L188.2 221.8M295.6 178.4L303.3 178.6M252.1 247.4L263.4 247.7M247.6 251.2L256.6 251.4M345.2 219.9L354.9 220.2M285.9 245.5L284.4 240.9M342.4 194.6L350.4 196.9M365.1 212.3L372.4 210.9M242.6 271.6L237.1 268.1M259.9 159.3L266.4 155.1M228.5 194.5L225.0 190.7M180.7 213.4L187.8 209.7M284.5 177.6L289.8 174.2M320.0 242.1L317.1 238.7M198.1 201.4L203.7 198.3M154.1 211.6L149.6 207.2M214.3 177.6L210.0 172.1M318.3 230.3L315.1 225.8M243.5 192.4L240.5 187.1M192.6 184.8L202.3 185.2M243.9 225.9L249.4 221.6M299.2 216.3L296.3 212.0M233.7 254.4L228.4 250.0M251.5 213.7L262.3 213.8M301.2 208.2L297.8 204.1M196.2 230.5L192.6 227.1M279.2 223.9L284.0 219.2M276.8 156.4L278.9 151.4M160.8 190.9L167.1 194.7M290.3 237.2L294.5 232.9M247.9 174.9L257.3 176.4M277.3 168.7L273.5 164.6M214.3 177.6L219.3 173.0M315.2 183.9L312.1 179.9M199.9 236.0L210.2 236.1M333.1 235.7L337.3 232.4M137.2 202.4L139.6 198.9M175.6 196.0L171.5 191.3M219.3 173.0L225.7 169.3M249.6 268.9L256.7 266.2M171.7 212.8L180.7 213.4M326.4 218.3L337.5 219.1M245.2 158.6L253.1 158.8M198.1 201.4L195.3 196.7M246.4 217.3L243.9 213.1M376.4 220.6L380.2 217.6M183.9 205.2L188.3 201.1M266.3 218.7L262.3 213.8M322.2 201.6L327.0 197.1M281.2 249.5L289.6 249.7M221.7 207.2L226.5 203.9M294.5 232.9L304.4 233.5M214.3 190.0L220.1 186.1M247.9 174.9L243.3 171.1M219.4 194.0L225.0 190.7M301.2 229.2L305.5 225.9M261.9 192.9L270.7 194.0M355.2 228.6L349.3 223.9M231.2 164.0L239.9 166.7M326.4 218.3L324.4 214.1M358.8 224.3L354.9 220.2M263.0 206.2L269.9 202.1M267.9 189.6L277.2 190.0M188.2 221.8L198.4 223.0M185.6 196.1L182.7 192.3M368.8 217.1L376.4 220.6M263.0 171.9L271.8 173.0M223.3 254.0L228.4 250.0M157.8 194.8L160.8 190.9M188.5 188.0L183.3 183.8M249.6 167.5L260.1 167.9M340.0 223.8L345.2 219.9M329.6 210.1L338.1 211.4M176.0 217.1L184.5 217.5M261.4 256.7L269.8 257.1M273.5 164.6L270.3 159.6M286.7 189.8L293.1 186.8M212.8 198.5L210.1 193.4M192.2 205.7L203.3 206.2M193.1 240.1L199.9 236.0M352.9 207.1L362.4 207.5M289.4 182.2L295.6 178.4M231.6 264.6L226.1 261.1M340.6 201.9L346.1 198.9M226.1 261.1L220.6 257.6M261.9 192.9L257.8 188.5M293.3 220.6L290.3 215.8M302.1 241.6L311.2 242.7M196.3 188.5L202.3 185.2M212.8 198.5L219.4 194.0M284.4 240.9L290.3 237.2M249.7 264.1L256.7 266.2M255.9 217.9L262.3 213.8M282.2 228.3L287.2 225.0M243.3 171.1L239.9 166.7M337.3 232.4L333.3 227.6M210.4 248.8L220.5 249.8M234.3 190.7L240.5 187.1M229.0 173.7L239.3 174.9M249.6 167.5L246.9 162.9M289.3 195.2L286.7 189.8M239.9 166.7L249.6 167.5M247.1 238.3L242.1 233.9M203.7 240.0L212.3 240.7M256.7 266.2L255.6 259.9M208.6 202.5L203.7 198.3M162.7 212.7L169.1 207.8M326.0 205.7L335.1 206.3M203.3 206.2L211.0 206.9M343.4 227.5L349.3 223.9M269.6 223.1L266.3 218.7M230.6 207.7L226.5 203.9M265.9 253.2L270.7 248.6M289.3 195.2L295.6 190.6M218.2 237.0L223.7 233.5M267.7 244.5L278.0 244.6M220.0 215.8L224.6 211.8M228.6 215.9L238.4 216.7M193.1 240.1L187.6 236.6M247.3 196.4L243.5 192.4M360.3 216.8L365.1 212.3M215.1 254.1L220.5 249.8M284.4 240.9L292.3 241.6M208.6 202.5L216.4 202.5M211.0 206.9L221.7 207.2M210.1 193.4L214.3 190.0M333.1 194.0L339.4 189.9M229.0 173.7L225.7 169.3M171.1 226.1L174.0 225.8M252.9 191.9L261.9 192.9M299.2 216.3L308.5 217.0M237.9 238.0L233.2 234.0M262.2 226.9L269.6 223.1M230.1 186.5L240.5 187.1M322.9 235.1L333.1 235.7M335.1 206.3L331.1 201.3M365.2 220.8L369.3 223.2M228.0 258.5L235.2 259.1M286.6 211.2L296.3 212.0M152.0 198.3L153.7 193.6M281.9 207.4L291.8 207.9M273.7 185.4L281.4 186.0M331.1 201.3L327.0 197.1M132.6 201.6L139.6 198.9M176.6 229.6L187.6 230.6M327.1 239.4L334.1 236.7M319.0 188.3L315.2 183.9M255.2 184.1L261.2 180.4M313.5 200.7L322.2 201.6M349.6 203.2L346.1 198.9M183.3 183.8L181.9 182.8M234.7 170.4L239.9 166.7M288.7 203.5L294.8 199.3M145.6 202.6L152.0 198.3M263.7 263.6L270.8 260.9M245.2 158.6L252.3 155.9M284.5 177.6L295.6 178.4M279.4 160.5L289.0 161.6M313.0 244.8L311.2 242.7M227.6 237.5L237.9 238.0M309.6 196.4L314.0 192.3M242.6 271.6L249.6 268.9M292.3 241.6L290.3 237.2M181.1 200.5L185.6 196.1M259.9 222.0L269.6 223.1M167.8 188.2L178.7 187.7M243.9 213.1L251.5 213.7M215.1 254.1L209.6 250.6M272.9 206.1L281.9 207.4M220.1 186.1L230.1 186.5M228.5 194.5L238.7 195.9M292.0 165.8L300.9 165.4M333.3 227.6L330.8 223.4M349.3 223.9L345.2 219.9M240.5 187.1L250.0 187.9M243.5 192.4L252.9 191.9M160.7 199.4L157.8 194.8M204.4 177.3L210.0 172.1M217.5 182.0L223.1 177.5M298.2 183.1L295.6 178.4M215.6 224.0L213.6 219.4M143.6 208.6L145.6 202.6M229.8 228.7L226.5 224.8M266.8 197.5L270.7 194.0M284.4 154.9L278.9 151.4M284.5 177.6L281.0 173.6M330.8 223.4L340.0 223.8M383.4 217.9L377.9 214.4M263.6 239.7L261.1 235.3M314.0 192.3L323.4 193.5M299.6 195.5L309.6 196.4M204.6 231.7L210.9 227.6M255.6 259.9L261.4 256.7M175.6 196.0L185.6 196.1M261.1 235.3L269.2 235.8M296.6 169.7L306.2 170.3M291.6 228.7L287.2 225.0M342.4 194.6L339.4 189.9M188.9 180.1L198.8 180.8M234.7 225.1L240.6 221.2M182.1 233.1L176.6 229.6M208.0 180.9L217.5 182.0M216.4 202.5L222.3 198.6M184.5 217.5L180.7 213.4M246.9 162.9L245.2 158.6M242.2 178.8L252.4 179.8M294.8 199.3L302.2 199.8M299.6 195.5L295.6 190.6M324.4 214.1L331.6 214.3M264.1 184.2L269.5 181.3M357.8 212.2L352.9 207.1M308.5 217.0L314.5 213.3M199.9 236.0L204.6 231.7M253.1 158.8L252.3 155.9M296.6 169.7L292.0 165.8M231.2 164.0L238.2 161.3M300.6 174.4L296.6 169.7M182.7 192.3L178.7 187.7M326.4 218.3L331.6 214.3M277.6 202.8L284.6 198.2M311.8 187.7L319.0 188.3M350.3 215.5L360.3 216.8M177.8 209.1L187.8 209.7M306.2 183.3L312.1 179.9M238.4 216.7L246.4 217.3M279.4 236.0L276.6 232.1M376.4 220.6L383.4 217.9M188.5 188.0L196.3 188.5M296.5 246.3L306.0 247.4M275.3 177.1L281.0 173.6M315.2 183.9L326.6 184.3M256.6 251.4L263.4 247.7M273.5 164.6L279.4 160.5M252.1 247.4L259.4 243.2M294.8 199.3L289.3 195.2M241.1 200.8L251.3 200.5M297.8 204.1L294.8 199.3M203.0 174.8L210.0 172.1M192.2 205.7L188.3 201.1M190.1 213.7L187.8 209.7M311.7 221.2L321.9 222.0M311.8 187.7L306.2 183.3M350.3 215.5L347.6 210.9M167.1 194.7L175.6 196.0M236.8 183.3L242.2 178.8M260.1 167.9L268.0 167.8M220.5 249.8L225.2 246.0M244.1 246.9L252.1 247.4M234.8 246.5L240.5 241.9M291.9 252.8L289.6 249.7M239.3 263.7L245.3 259.4M302.1 241.6L298.5 237.6M221.4 241.1L227.6 237.5M201.6 227.5L207.4 222.8M271.8 173.0L277.3 168.7M282.2 228.3L279.2 223.9M209.6 250.6L220.5 249.8M223.1 177.5L219.3 173.0M249.0 229.9L253.9 226.3M289.0 161.6L289.9 158.4M154.6 215.6L154.1 211.6M183.3 183.8L188.9 180.1M238.7 195.9L247.3 196.4M280.5 194.9L277.2 190.0M146.7 196.2L152.0 198.3M255.5 205.4L259.5 201.5M202.3 185.2L208.0 180.9M264.5 260.5L261.4 256.7M162.7 212.7L171.7 212.8M225.7 169.3L234.7 170.4M263.0 171.9L260.1 167.9M228.4 250.0L237.8 250.5M216.8 244.8L221.4 241.1M347.6 210.9L344.0 206.7M284.6 198.2L289.3 195.2M159.1 207.5L169.1 207.8M380.2 217.6L377.9 214.4M329.6 189.5L326.6 184.3M293.3 220.6L299.2 216.3M193.1 240.1L203.7 240.0M279.4 181.1L289.4 182.2M306.2 204.3L313.5 200.7M276.8 156.4L271.3 151.7M226.5 203.9L222.3 198.6M259.4 243.2L267.7 244.5M259.3 153.2L266.4 150.6M349.6 203.2L361.4 203.9M223.7 233.5L229.8 228.7M199.8 214.2L206.4 210.3M228.2 182.6L223.1 177.5M233.3 211.9L238.9 208.4M255.5 205.4L263.0 206.2M317.1 238.7L313.4 234.1M225.7 169.3L224.1 166.7M210.2 236.1L204.6 231.7M292.3 241.6L298.5 237.6M305.8 212.7L301.2 208.2M298.5 237.6L308.7 238.5M266.6 231.5L272.3 227.4M312.1 179.9L322.9 179.4M321.9 222.0L317.2 217.3M228.4 250.0L225.2 246.0M272.3 227.4L279.2 223.9M245.3 259.4L241.9 255.2M302.2 199.8L299.6 195.5M317.2 217.3L314.5 213.3M296.3 212.0L305.8 212.7M286.3 232.5L291.6 228.7M309.3 230.2L318.3 230.3M145.6 202.6L154.2 203.0M228.2 182.6L232.7 179.2M275.3 253.6L270.7 248.6M279.4 181.1L275.3 177.1M138.1 205.1L145.6 202.6M259.5 201.5L266.8 197.5M279.4 160.5L284.4 154.9M333.3 227.6L343.4 227.5M154.2 203.0L165.9 203.9M220.6 257.6L223.3 254.0M178.3 221.3L184.5 217.5M220.7 228.4L229.8 228.7M259.9 222.0L255.9 217.9M342.4 194.6L344.9 193.4M365.1 212.3L366.9 207.4M360.3 216.8L368.8 217.1M215.6 224.0L222.1 220.5M284.4 240.9L279.4 236.0M293.1 186.8L298.2 183.1M275.3 253.6L283.4 253.6M313.4 234.1L309.3 230.2M283.4 253.6L291.9 252.8M327.0 197.1L333.1 194.0M240.5 187.1L236.8 183.3M333.1 235.7L327.5 231.0M237.1 268.1L231.6 264.6M296.3 212.0L291.8 207.9M225.2 246.0L221.4 241.1M262.2 226.9L272.3 227.4M285.9 245.5L292.3 241.6M273.1 240.4L279.4 236.0M182.1 233.1L190.5 235.4M320.0 242.1L327.1 239.4M187.6 230.6L196.2 230.5M318.0 197.2L314.0 192.3M331.6 214.3L329.6 210.1M137.2 202.4L145.6 202.6M190.1 213.7L199.8 214.2M184.5 217.5L193.5 218.2M263.4 247.7L259.4 243.2M311.7 221.2L317.2 217.3M322.9 235.1L327.5 231.0M333.1 194.0L329.6 189.5M206.4 210.3L215.4 211.3M196.2 230.5L201.6 227.5M283.4 253.6L281.2 249.5M235.2 259.1L241.9 255.2M171.3 200.2L181.1 200.5M301.7 187.5L311.8 187.7M253.5 171.0L260.1 167.9M192.6 184.8L188.9 180.1M204.4 177.3L203.0 174.8M329.6 210.1L335.1 206.3M277.3 168.7L286.0 169.4M253.9 226.3L262.2 226.9" stroke="#000" stroke-width="1" fill="none" shape-rendering="crispEdges"/></g>
<clipPath id="front"><polygon points="241.81,274.72 315.75,246.50 200.25,173.00 126.31,201.22" /></clipPath></defs>
<use href="#plate"/>
<polygon points="192.55,75.53 323.45,158.84 323.45,343.97 192.55,260.66" fill="#6fd8f8" fill-opacity="0.53"/>
<g stroke="#6a6a6a" stroke-width="1" shape-rendering="crispEdges"><line x1="323.50" y1="343.97" x2="323.50" y2="158.84" /><line x1="323.45" y1="343.97" x2="192.55" y2="260.66" /><line x1="314.50" y1="338.01" x2="314.50" y2="152.88" /><line x1="323.45" y1="330.74" x2="192.55" y2="247.44" /><line x1="304.50" y1="332.06" x2="304.50" y2="146.94" /><line x1="323.45" y1="317.52" x2="192.55" y2="234.22" /><line x1="295.50" y1="326.12" x2="295.50" y2="140.99" /><line x1="323.45" y1="304.29" x2="192.55" y2="220.99" /><line x1="286.50" y1="320.16" x2="286.50" y2="135.03" /><line x1="323.45" y1="291.07" x2="192.55" y2="207.77" /><line x1="276.50" y1="314.22" x2="276.50" y2="129.09" /><line x1="323.45" y1="277.85" x2="192.55" y2="194.55" /><line x1="267.50" y1="308.26" x2="267.50" y2="123.13" /><line x1="323.45" y1="264.62" x2="192.55" y2="181.32" /><line x1="257.50" y1="302.31" x2="257.50" y2="117.19" /><line x1="323.45" y1="251.40" x2="192.55" y2="168.10" /><line x1="248.50" y1="296.37" x2="248.50" y2="111.24" /><line x1="323.45" y1="238.18" x2="192.55" y2="154.88" /><line x1="239.50" y1="290.41" x2="239.50" y2="105.28" /><line x1="323.45" y1="224.95" x2="192.55" y2="141.65" /><line x1="229.50" y1="284.47" x2="229.50" y2="99.34" /><line x1="323.45" y1="211.73" x2="192.55" y2="128.43" /><line x1="220.50" y1="278.51" x2="220.50" y2="93.38" /><line x1="323.45" y1="198.51" x2="192.55" y2="115.21" /><line x1="211.50" y1="272.56" x2="211.50" y2="87.44" /><line x1="323.45" y1="185.28" x2="192.55" y2="101.98" /><line x1="201.50" y1="266.62" x2="201.50" y2="81.49" /><line x1="323.45" y1="172.06" x2="192.55" y2="88.76" /><line x1="192.50" y1="260.66" x2="192.50" y2="75.53" /><line x1="323.45" y1="158.84" x2="192.55" y2="75.53" /></g>
<clipPath id="backc"><polygon points="313.00,244.75 383.42,217.88 273.42,147.88 203.00,174.75" /></clipPath>
<g stroke="#000" stroke-opacity="0.45" stroke-width="1" shape-rendering="crispEdges" clip-path="url(#backc)"><line x1="323.50" y1="343.97" x2="323.50" y2="158.84" /><line x1="323.45" y1="343.97" x2="192.55" y2="260.66" /><line x1="314.50" y1="338.01" x2="314.50" y2="152.88" /><line x1="323.45" y1="330.74" x2="192.55" y2="247.44" /><line x1="304.50" y1="332.06" x2="304.50" y2="146.94" /><line x1="323.45" y1="317.52" x2="192.55" y2="234.22" /><line x1="295.50" y1="326.12" x2="295.50" y2="140.99" /><line x1="323.45" y1="304.29" x2="192.55" y2="220.99" /><line x1="286.50" y1="320.16" x2="286.50" y2="135.03" /><line x1="323.45" y1="291.07" x2="192.55" y2="207.77" /><line x1="276.50" y1="314.22" x2="276.50" y2="129.09" /><line x1="323.45" y1="277.85" x2="192.55" y2="194.55" /><line x1="267.50" y1="308.26" x2="267.50" y2="123.13" /><line x1="323.45" y1="264.62" x2="192.55" y2="181.32" /><line x1="257.50" y1="302.31" x2="257.50" y2="117.19" /><line x1="323.45" y1="251.40" x2="192.55" y2="168.10" /><line x1="248.50" y1="296.37" x2="248.50" y2="111.24" /><line x1="323.45" y1="238.18" x2="192.55" y2="154.88" /><line x1="239.50" y1="290.41" x2="239.50" y2="105.28" /><line x1="323.45" y1="224.95" x2="192.55" y2="141.65" /><line x1="229.50" y1="284.47" x2="229.50" y2="99.34" /><line x1="323.45" y1="211.73" x2="192.55" y2="128.43" /><line x1="220.50" y1="278.51" x2="220.50" y2="93.38" /><line x1="323.45" y1="198.51" x2="192.55" y2="115.21" /><line x1="211.50" y1="272.56" x2="211.50" y2="87.44" /><line x1="323.45" y1="185.28" x2="192.55" y2="101.98" /><line x1="201.50" y1="266.62" x2="201.50" y2="81.49" /><line x1="323.45" y1="172.06" x2="192.55" y2="88.76" /><line x1="192.50" y1="260.66" x2="192.50" y2="75.53" /><line x1="323.45" y1="158.84" x2="192.55" y2="75.53" /></g>
<g stroke="#262626" stroke-width="1" shape-rendering="crispEdges"><line x1="276.50" y1="149.50" x2="276.50" y2="42.00" /></g>
<use href="#plate" clip-path="url(#front)"/>
<g stroke="#262626" stroke-width="1" shape-rendering="crispEdges"><line x1="107.50" y1="293.50" x2="107.50" y2="106.50" /><line x1="408.50" y1="313.00" x2="408.50" y2="126.00" /><line x1="107.50" y1="106.50" x2="276.50" y2="42.00" /><line x1="276.50" y1="42.00" x2="408.50" y2="126.00" /><line x1="107.50" y1="293.50" x2="239.50" y2="377.50" /><line x1="239.50" y1="377.50" x2="408.50" y2="313.00" /><line x1="228.50" y1="370.50" x2="224.76" y2="371.93" /><line x1="253.58" y1="372.12" x2="256.96" y2="374.27" /><line x1="201.00" y1="353.00" x2="197.26" y2="354.43" /><line x1="288.79" y1="358.69" x2="292.17" y2="360.84" /><line x1="173.50" y1="335.50" x2="169.76" y2="336.93" /><line x1="324.00" y1="345.25" x2="327.37" y2="347.40" /><line x1="146.00" y1="318.00" x2="142.26" y2="319.43" /><line x1="359.21" y1="331.81" x2="362.58" y2="333.96" /><line x1="118.50" y1="300.50" x2="114.76" y2="301.93" /><line x1="394.42" y1="318.38" x2="397.79" y2="320.52" /></g>
<text x="109.2" y="313.7" font-size="10.5" text-anchor="middle" font-weight="normal" fill="#383838" >1</text>
<text x="132.4" y="332" font-size="10.5" text-anchor="middle" font-weight="normal" fill="#383838" >0.5</text>
<text x="164" y="349" font-size="10.5" text-anchor="middle" font-weight="normal" fill="#383838" >0</text>
<text x="185" y="366.6" font-size="10.5" text-anchor="middle" font-weight="normal" fill="#383838" >-0.5</text>
<text x="216.5" y="383.9" font-size="10.5" text-anchor="middle" font-weight="normal" fill="#383838" >-1</text>
<text x="263.5" y="386.9" font-size="10.5" text-anchor="middle" font-weight="normal" fill="#383838" >-1</text>
<text x="303.3" y="373.1" font-size="10.5" text-anchor="middle" font-weight="normal" fill="#383838" >-0.5</text>
<text x="333" y="360.1" font-size="10.5" text-anchor="middle" font-weight="normal" fill="#383838" >0</text>
<text x="372.3" y="345.7" font-size="10.5" text-anchor="middle" font-weight="normal" fill="#383838" >0.5</text>
<text x="402.6" y="331.9" font-size="10.5" text-anchor="middle" font-weight="normal" fill="#383838" >1</text>
<text x="156.5" y="387.6" font-size="11.5" text-anchor="middle" font-weight="normal" fill="#383838" >y (m)</text>
<text x="331.4" y="391.9" font-size="11.5" text-anchor="middle" font-weight="normal" fill="#383838" >x (m)</text>
<text x="0" y="0" font-size="11.5" text-anchor="middle" font-weight="normal" fill="#383838" transform="translate(98.4,201.6) rotate(-90)">z (m)</text>
<text x="258" y="36.6" font-size="11.6" text-anchor="middle" font-weight="bold" fill="#000" >Select a Feeding Edge or Polygon.</text>
</svg>
</body></html>
